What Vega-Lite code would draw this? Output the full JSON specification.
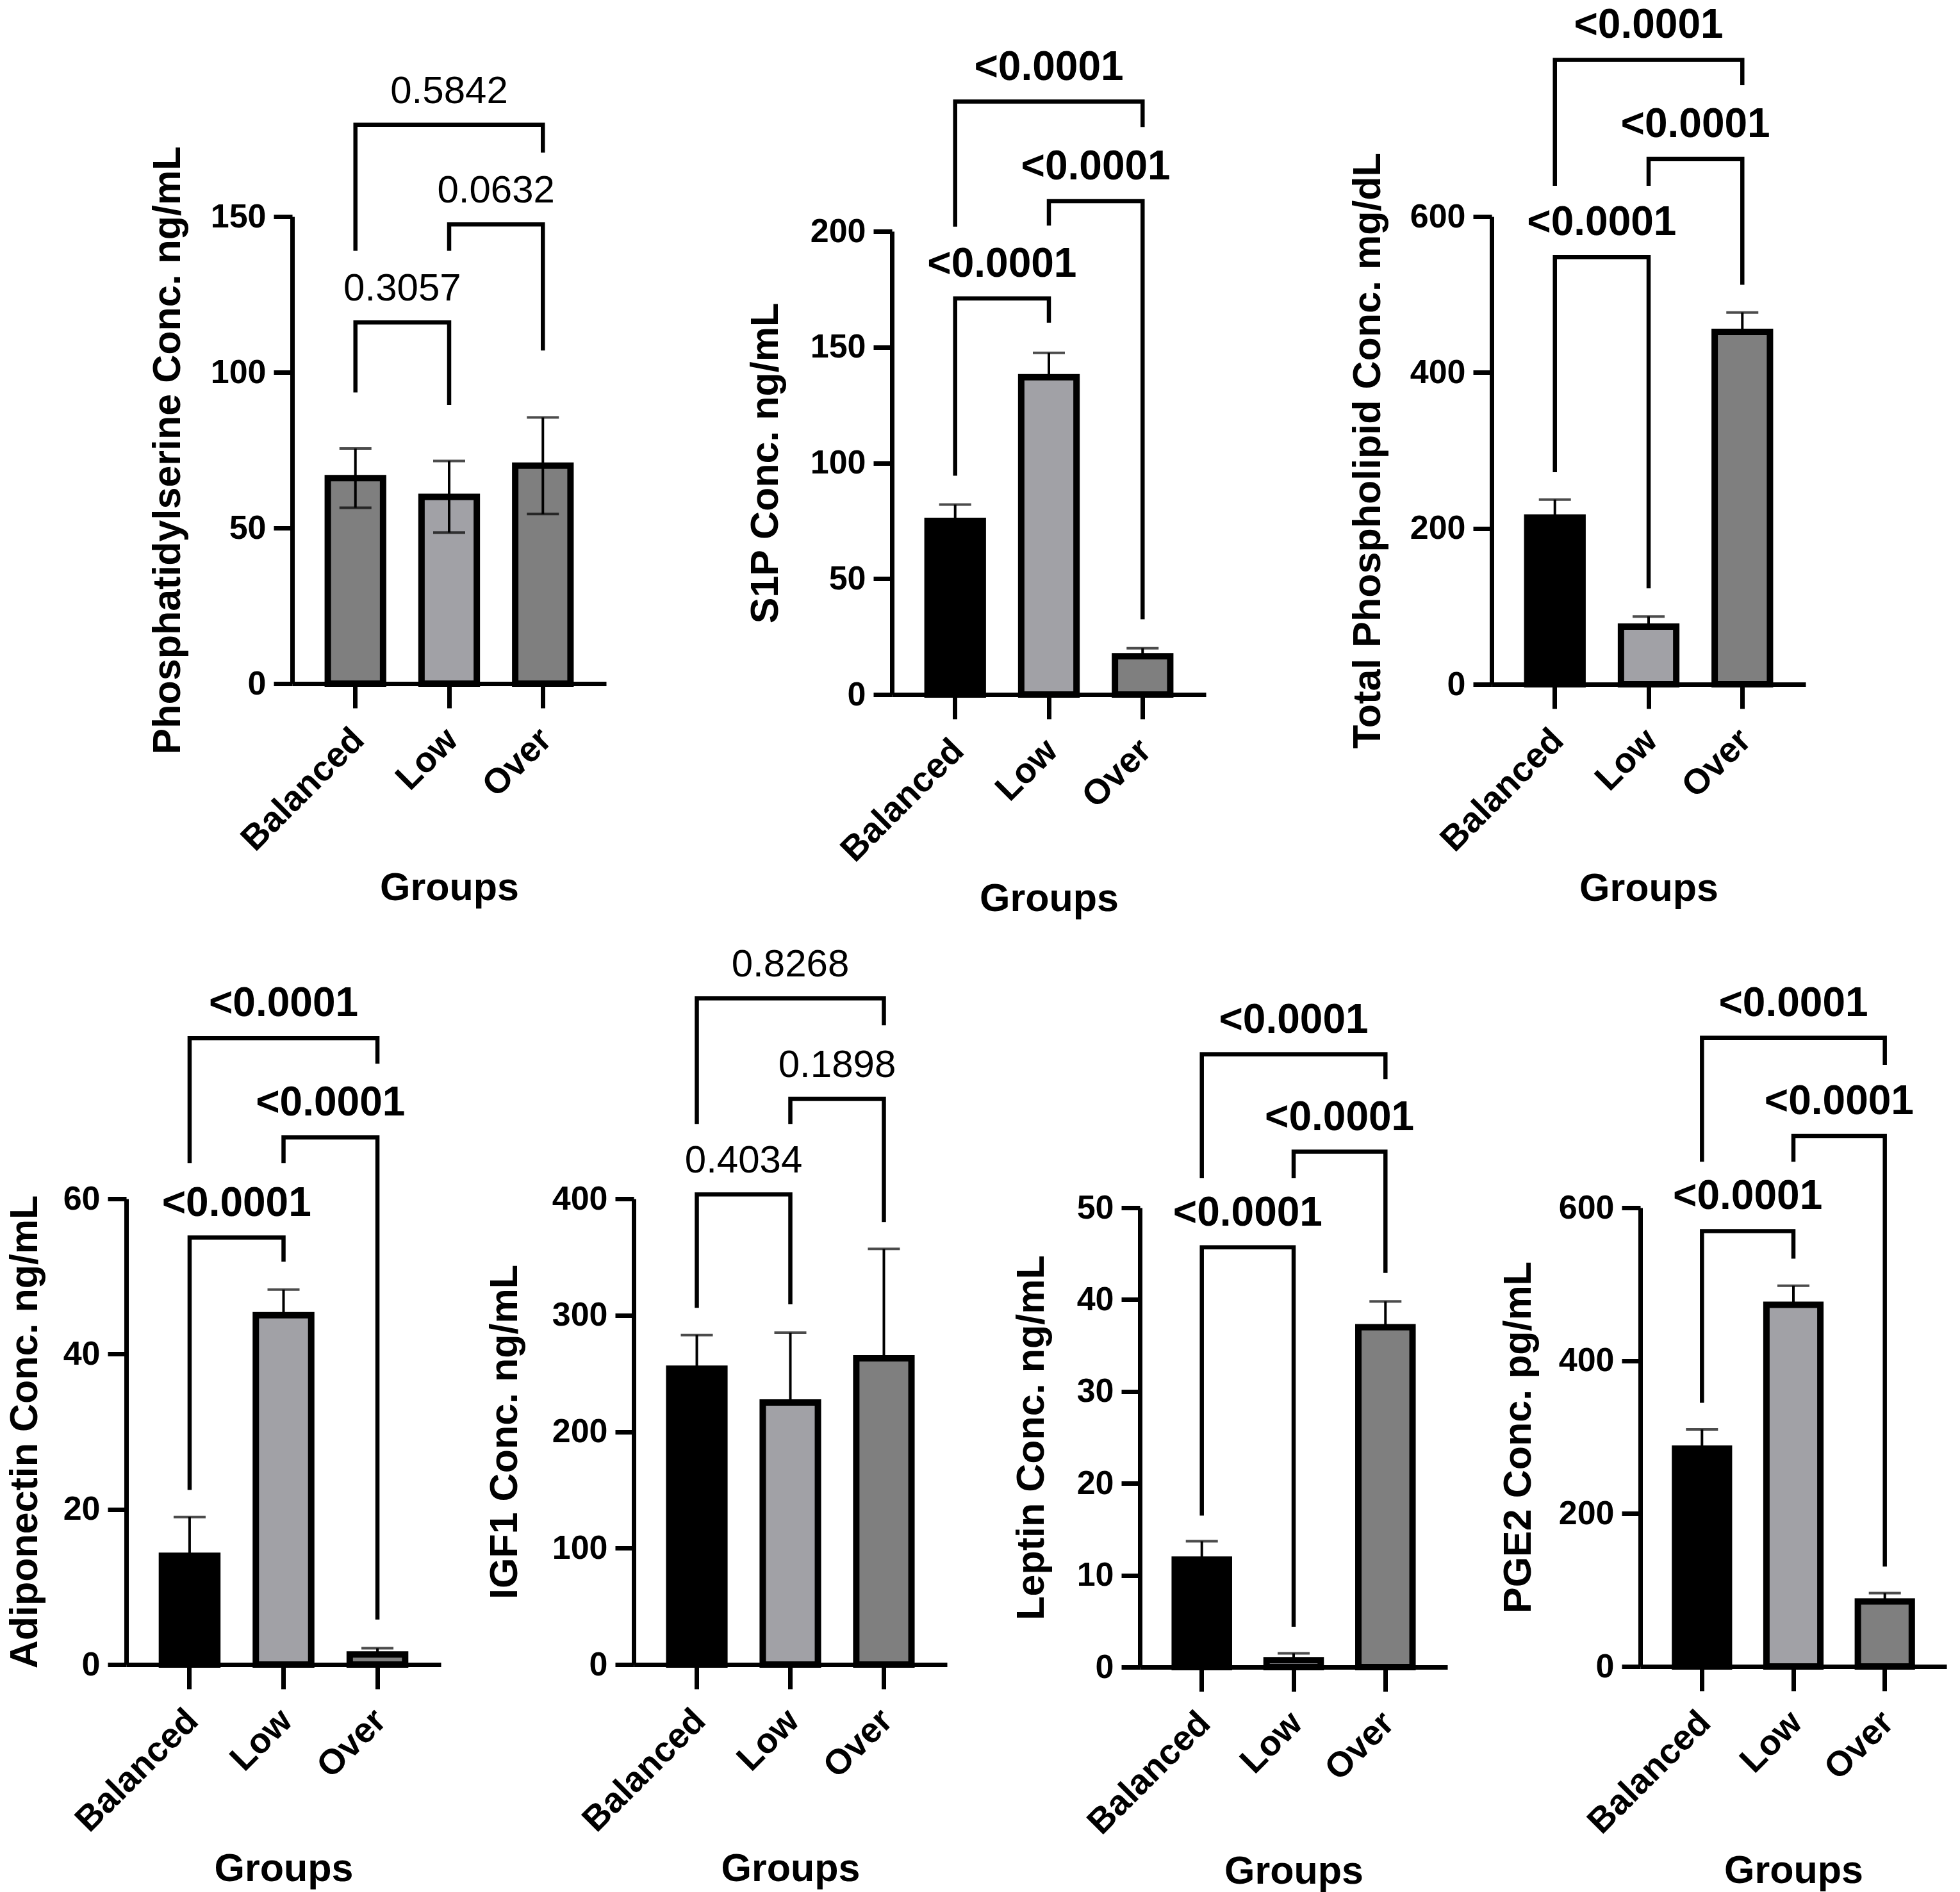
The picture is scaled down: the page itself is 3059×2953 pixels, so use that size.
{
  "$schema": "https://vega.github.io/schema/vega-lite/v6.json",
  "background": "white",
  "padding": {"left": 8, "top": 8, "right": 10, "bottom": 10},
  "spacing": 1533,
  "bounds": "flush",
  "resolve": {"scale": {"fill": "independent"}},
  "datasets": {
    "bars": [
      {"panel": "PS", "group": "Balanced", "mean": 66, "lo": 56.5, "hi": 75.5},
      {"panel": "PS", "group": "Low", "mean": 60, "lo": 48.5, "hi": 71.5},
      {"panel": "PS", "group": "Over", "mean": 70, "lo": 54.5, "hi": 85.5},
      {"panel": "S1P", "group": "Balanced", "mean": 75, "lo": 68, "hi": 82},
      {"panel": "S1P", "group": "Low", "mean": 137, "lo": 126.5, "hi": 147.5},
      {"panel": "S1P", "group": "Over", "mean": 16.5, "lo": 13, "hi": 20},
      {"panel": "TPL", "group": "Balanced", "mean": 214, "lo": 191, "hi": 237},
      {"panel": "TPL", "group": "Low", "mean": 74, "lo": 61, "hi": 87},
      {"panel": "TPL", "group": "Over", "mean": 452, "lo": 427, "hi": 477},
      {"panel": "ADI", "group": "Balanced", "mean": 14, "lo": 9, "hi": 19},
      {"panel": "ADI", "group": "Low", "mean": 45, "lo": 41.7, "hi": 48.3},
      {"panel": "ADI", "group": "Over", "mean": 1.3, "lo": 0.5, "hi": 2.1},
      {"panel": "IGF", "group": "Balanced", "mean": 254, "lo": 225, "hi": 283},
      {"panel": "IGF", "group": "Low", "mean": 225, "lo": 165, "hi": 285},
      {"panel": "IGF", "group": "Over", "mean": 263, "lo": 169, "hi": 357},
      {"panel": "LEP", "group": "Balanced", "mean": 11.7, "lo": 9.7, "hi": 13.7},
      {"panel": "LEP", "group": "Low", "mean": 0.75, "lo": 0, "hi": 1.5},
      {"panel": "LEP", "group": "Over", "mean": 37, "lo": 34.2, "hi": 39.8},
      {"panel": "PGE", "group": "Balanced", "mean": 285, "lo": 260, "hi": 310},
      {"panel": "PGE", "group": "Low", "mean": 473, "lo": 448, "hi": 498},
      {"panel": "PGE", "group": "Over", "mean": 85, "lo": 74, "hi": 96}
    ],
    "brackets": [
      {"panel": "PS", "pair": "BL", "seq": 0, "group": "Balanced", "y": 93.5},
      {"panel": "PS", "pair": "BL", "seq": 1, "group": "Balanced", "y": 116},
      {"panel": "PS", "pair": "BL", "seq": 2, "group": "Low", "y": 116},
      {"panel": "PS", "pair": "BL", "seq": 3, "group": "Low", "y": 89.5},
      {"panel": "PS", "pair": "LO", "seq": 0, "group": "Low", "y": 139},
      {"panel": "PS", "pair": "LO", "seq": 1, "group": "Low", "y": 147.5},
      {"panel": "PS", "pair": "LO", "seq": 2, "group": "Over", "y": 147.5},
      {"panel": "PS", "pair": "LO", "seq": 3, "group": "Over", "y": 107},
      {"panel": "PS", "pair": "BO", "seq": 0, "group": "Balanced", "y": 139},
      {"panel": "PS", "pair": "BO", "seq": 1, "group": "Balanced", "y": 179.5},
      {"panel": "PS", "pair": "BO", "seq": 2, "group": "Over", "y": 179.5},
      {"panel": "PS", "pair": "BO", "seq": 3, "group": "Over", "y": 170.5},
      {"panel": "S1P", "pair": "BL", "seq": 0, "group": "Balanced", "y": 94.5},
      {"panel": "S1P", "pair": "BL", "seq": 1, "group": "Balanced", "y": 171},
      {"panel": "S1P", "pair": "BL", "seq": 2, "group": "Low", "y": 171},
      {"panel": "S1P", "pair": "BL", "seq": 3, "group": "Low", "y": 160.5},
      {"panel": "S1P", "pair": "LO", "seq": 0, "group": "Low", "y": 202.5},
      {"panel": "S1P", "pair": "LO", "seq": 1, "group": "Low", "y": 213},
      {"panel": "S1P", "pair": "LO", "seq": 2, "group": "Over", "y": 213},
      {"panel": "S1P", "pair": "LO", "seq": 3, "group": "Over", "y": 32.5},
      {"panel": "S1P", "pair": "BO", "seq": 0, "group": "Balanced", "y": 202},
      {"panel": "S1P", "pair": "BO", "seq": 1, "group": "Balanced", "y": 256},
      {"panel": "S1P", "pair": "BO", "seq": 2, "group": "Over", "y": 256},
      {"panel": "S1P", "pair": "BO", "seq": 3, "group": "Over", "y": 245},
      {"panel": "TPL", "pair": "BL", "seq": 0, "group": "Balanced", "y": 272},
      {"panel": "TPL", "pair": "BL", "seq": 1, "group": "Balanced", "y": 548},
      {"panel": "TPL", "pair": "BL", "seq": 2, "group": "Low", "y": 548},
      {"panel": "TPL", "pair": "BL", "seq": 3, "group": "Low", "y": 123},
      {"panel": "TPL", "pair": "LO", "seq": 0, "group": "Low", "y": 639.5},
      {"panel": "TPL", "pair": "LO", "seq": 1, "group": "Low", "y": 674},
      {"panel": "TPL", "pair": "LO", "seq": 2, "group": "Over", "y": 674},
      {"panel": "TPL", "pair": "LO", "seq": 3, "group": "Over", "y": 512.5},
      {"panel": "TPL", "pair": "BO", "seq": 0, "group": "Balanced", "y": 639.5},
      {"panel": "TPL", "pair": "BO", "seq": 1, "group": "Balanced", "y": 801},
      {"panel": "TPL", "pair": "BO", "seq": 2, "group": "Over", "y": 801},
      {"panel": "TPL", "pair": "BO", "seq": 3, "group": "Over", "y": 768.5},
      {"panel": "ADI", "pair": "BL", "seq": 0, "group": "Balanced", "y": 22.5},
      {"panel": "ADI", "pair": "BL", "seq": 1, "group": "Balanced", "y": 55},
      {"panel": "ADI", "pair": "BL", "seq": 2, "group": "Low", "y": 55},
      {"panel": "ADI", "pair": "BL", "seq": 3, "group": "Low", "y": 51.9},
      {"panel": "ADI", "pair": "LO", "seq": 0, "group": "Low", "y": 64.6},
      {"panel": "ADI", "pair": "LO", "seq": 1, "group": "Low", "y": 67.9},
      {"panel": "ADI", "pair": "LO", "seq": 2, "group": "Over", "y": 67.9},
      {"panel": "ADI", "pair": "LO", "seq": 3, "group": "Over", "y": 5.8},
      {"panel": "ADI", "pair": "BO", "seq": 0, "group": "Balanced", "y": 64.6},
      {"panel": "ADI", "pair": "BO", "seq": 1, "group": "Balanced", "y": 80.7},
      {"panel": "ADI", "pair": "BO", "seq": 2, "group": "Over", "y": 80.7},
      {"panel": "ADI", "pair": "BO", "seq": 3, "group": "Over", "y": 77.4},
      {"panel": "IGF", "pair": "BL", "seq": 0, "group": "Balanced", "y": 306.3},
      {"panel": "IGF", "pair": "BL", "seq": 1, "group": "Balanced", "y": 403.7},
      {"panel": "IGF", "pair": "BL", "seq": 2, "group": "Low", "y": 403.7},
      {"panel": "IGF", "pair": "BL", "seq": 3, "group": "Low", "y": 309.5},
      {"panel": "IGF", "pair": "LO", "seq": 0, "group": "Low", "y": 464.2},
      {"panel": "IGF", "pair": "LO", "seq": 1, "group": "Low", "y": 485.8},
      {"panel": "IGF", "pair": "LO", "seq": 2, "group": "Over", "y": 485.8},
      {"panel": "IGF", "pair": "LO", "seq": 3, "group": "Over", "y": 380},
      {"panel": "IGF", "pair": "BO", "seq": 0, "group": "Balanced", "y": 464.2},
      {"panel": "IGF", "pair": "BO", "seq": 1, "group": "Balanced", "y": 572.1},
      {"panel": "IGF", "pair": "BO", "seq": 2, "group": "Over", "y": 572.1},
      {"panel": "IGF", "pair": "BO", "seq": 3, "group": "Over", "y": 548.9},
      {"panel": "LEP", "pair": "BL", "seq": 0, "group": "Balanced", "y": 16.5},
      {"panel": "LEP", "pair": "BL", "seq": 1, "group": "Balanced", "y": 45.7},
      {"panel": "LEP", "pair": "BL", "seq": 2, "group": "Low", "y": 45.7},
      {"panel": "LEP", "pair": "BL", "seq": 3, "group": "Low", "y": 4.4},
      {"panel": "LEP", "pair": "LO", "seq": 0, "group": "Low", "y": 53.2},
      {"panel": "LEP", "pair": "LO", "seq": 1, "group": "Low", "y": 56.1},
      {"panel": "LEP", "pair": "LO", "seq": 2, "group": "Over", "y": 56.1},
      {"panel": "LEP", "pair": "LO", "seq": 3, "group": "Over", "y": 42.9},
      {"panel": "LEP", "pair": "BO", "seq": 0, "group": "Balanced", "y": 53.2},
      {"panel": "LEP", "pair": "BO", "seq": 1, "group": "Balanced", "y": 66.7},
      {"panel": "LEP", "pair": "BO", "seq": 2, "group": "Over", "y": 66.7},
      {"panel": "LEP", "pair": "BO", "seq": 3, "group": "Over", "y": 64},
      {"panel": "PGE", "pair": "BL", "seq": 0, "group": "Balanced", "y": 344.9},
      {"panel": "PGE", "pair": "BL", "seq": 1, "group": "Balanced", "y": 569.5},
      {"panel": "PGE", "pair": "BL", "seq": 2, "group": "Low", "y": 569.5},
      {"panel": "PGE", "pair": "BL", "seq": 3, "group": "Low", "y": 533.4},
      {"panel": "PGE", "pair": "LO", "seq": 0, "group": "Low", "y": 660.1},
      {"panel": "PGE", "pair": "LO", "seq": 1, "group": "Low", "y": 693.8},
      {"panel": "PGE", "pair": "LO", "seq": 2, "group": "Over", "y": 693.8},
      {"panel": "PGE", "pair": "LO", "seq": 3, "group": "Over", "y": 130.7},
      {"panel": "PGE", "pair": "BO", "seq": 0, "group": "Balanced", "y": 660.1},
      {"panel": "PGE", "pair": "BO", "seq": 1, "group": "Balanced", "y": 822.2},
      {"panel": "PGE", "pair": "BO", "seq": 2, "group": "Over", "y": 822.2},
      {"panel": "PGE", "pair": "BO", "seq": 3, "group": "Over", "y": 786.9}
    ],
    "pvals": [
      {"panel": "PS", "group": "Balanced", "span": 1, "h": 116, "p": "0.3057"},
      {"panel": "PS", "group": "Low", "span": 1, "h": 147.5, "p": "0.0632"},
      {"panel": "PS", "group": "Low", "span": 2, "h": 179.5, "p": "0.5842"},
      {"panel": "S1P", "group": "Balanced", "span": 1, "h": 171, "p": "<0.0001"},
      {"panel": "S1P", "group": "Low", "span": 1, "h": 213, "p": "<0.0001"},
      {"panel": "S1P", "group": "Low", "span": 2, "h": 256, "p": "<0.0001"},
      {"panel": "TPL", "group": "Balanced", "span": 1, "h": 548, "p": "<0.0001"},
      {"panel": "TPL", "group": "Low", "span": 1, "h": 674, "p": "<0.0001"},
      {"panel": "TPL", "group": "Low", "span": 2, "h": 801, "p": "<0.0001"},
      {"panel": "ADI", "group": "Balanced", "span": 1, "h": 55, "p": "<0.0001"},
      {"panel": "ADI", "group": "Low", "span": 1, "h": 67.9, "p": "<0.0001"},
      {"panel": "ADI", "group": "Low", "span": 2, "h": 80.7, "p": "<0.0001"},
      {"panel": "IGF", "group": "Balanced", "span": 1, "h": 403.7, "p": "0.4034"},
      {"panel": "IGF", "group": "Low", "span": 1, "h": 485.8, "p": "0.1898"},
      {"panel": "IGF", "group": "Low", "span": 2, "h": 572.1, "p": "0.8268"},
      {"panel": "LEP", "group": "Balanced", "span": 1, "h": 45.7, "p": "<0.0001"},
      {"panel": "LEP", "group": "Low", "span": 1, "h": 56.1, "p": "<0.0001"},
      {"panel": "LEP", "group": "Low", "span": 2, "h": 66.7, "p": "<0.0001"},
      {"panel": "PGE", "group": "Balanced", "span": 1, "h": 569.5, "p": "<0.0001"},
      {"panel": "PGE", "group": "Low", "span": 1, "h": 693.8, "p": "<0.0001"},
      {"panel": "PGE", "group": "Low", "span": 2, "h": 822.2, "p": "<0.0001"}
    ]
  },
  "vconcat": [
    {
      "hconcat": [
        {"width": 259, "height": 1, "data": {"values": []}, "mark": "point"},
        {
          "hconcat": [
            {
              "width": 490, "height": 729,
              "layer": [
                {"data": {"name": "bars"}, "transform": [{"filter": "datum.panel === 'PS'"}],
                 "mark": {"type": "bar", "stroke": "black", "strokeWidth": 10},
                 "encoding": {
                   "x": {"field": "group", "type": "nominal", "title": "Groups", "scale": {"domain": ["Balanced", "Low", "Over"], "paddingInner": 0.41, "paddingOuter": 0.38}},
                   "y": {"field": "mean", "type": "quantitative", "title": "Phosphatidylserine Conc. ng/mL", "scale": {"domain": [0, 150], "nice": false}, "axis": {"values": [0, 50, 100, 150], "titlePadding": 35}},
                   "fill": {"field": "group", "type": "nominal", "scale": {"domain": ["Balanced", "Low", "Over"], "range": ["#7f7f7f", "#a1a1a6", "#7f7f7f"]}, "legend": null}}},
                {"data": {"name": "bars"}, "transform": [{"filter": "datum.panel === 'PS'"}],
                 "mark": {"type": "rule", "strokeWidth": 4, "color": "black"},
                 "encoding": {"x": {"field": "group", "type": "nominal", "title": "Groups"}, "y": {"field": "lo", "type": "quantitative", "title": "Phosphatidylserine Conc. ng/mL"}, "y2": {"field": "hi"}}},
                {"data": {"name": "bars"}, "transform": [{"filter": "datum.panel === 'PS'"}],
                 "mark": {"type": "tick", "thickness": 4, "size": 50, "color": "black"},
                 "encoding": {"x": {"field": "group", "type": "nominal", "title": "Groups"}, "y": {"field": "hi", "type": "quantitative", "title": "Phosphatidylserine Conc. ng/mL"}}},
                {"data": {"name": "bars"}, "transform": [{"filter": "datum.panel === 'PS'"}],
                 "mark": {"type": "tick", "thickness": 4, "size": 50, "color": "black"},
                 "encoding": {"x": {"field": "group", "type": "nominal", "title": "Groups"}, "y": {"field": "lo", "type": "quantitative", "title": "Phosphatidylserine Conc. ng/mL"}}},
                {"data": {"name": "brackets"}, "transform": [{"filter": "datum.panel === 'PS'"}],
                 "mark": {"type": "line", "strokeWidth": 6.5, "color": "black", "strokeJoin": "miter"},
                 "encoding": {"x": {"field": "group", "type": "nominal", "title": "Groups"}, "y": {"field": "y", "type": "quantitative", "title": "Phosphatidylserine Conc. ng/mL"}, "detail": {"field": "pair"}, "order": {"field": "seq"}}},
                {"data": {"name": "pvals"}, "transform": [{"filter": "datum.panel === 'PS' && datum.span === 1"}],
                 "mark": {"type": "text", "fontSize": 60, "fontWeight": "normal", "baseline": "alphabetic", "dy": -34, "color": "black"},
                 "encoding": {"x": {"field": "group", "type": "nominal", "title": "Groups", "bandPosition": 1.3475}, "y": {"field": "h", "type": "quantitative", "title": "Phosphatidylserine Conc. ng/mL"}, "text": {"field": "p"}}},
                {"data": {"name": "pvals"}, "transform": [{"filter": "datum.panel === 'PS' && datum.span === 2"}],
                 "mark": {"type": "text", "fontSize": 60, "fontWeight": "normal", "baseline": "alphabetic", "dy": -34, "color": "black"},
                 "encoding": {"x": {"field": "group", "type": "nominal", "title": "Groups"}, "y": {"field": "h", "type": "quantitative", "title": "Phosphatidylserine Conc. ng/mL"}, "text": {"field": "p"}}}
              ]
            },
            {
              "width": 490, "height": 746,
              "layer": [
                {"data": {"name": "bars"}, "transform": [{"filter": "datum.panel === 'S1P'"}],
                 "mark": {"type": "rule", "strokeWidth": 4, "color": "black"},
                 "encoding": {"x": {"field": "group", "type": "nominal", "title": "Groups"}, "y": {"field": "lo", "type": "quantitative", "title": "S1P Conc. ng/mL"}, "y2": {"field": "hi"}}},
                {"data": {"name": "bars"}, "transform": [{"filter": "datum.panel === 'S1P'"}],
                 "mark": {"type": "bar", "stroke": "black", "strokeWidth": 10},
                 "encoding": {
                   "x": {"field": "group", "type": "nominal", "title": "Groups", "scale": {"domain": ["Balanced", "Low", "Over"], "paddingInner": 0.41, "paddingOuter": 0.38}},
                   "y": {"field": "mean", "type": "quantitative", "title": "S1P Conc. ng/mL", "scale": {"domain": [0, 200], "nice": false, "range": [746, 23]}, "axis": {"values": [0, 50, 100, 150, 200], "titlePadding": 38}},
                   "fill": {"field": "group", "type": "nominal", "scale": {"domain": ["Balanced", "Low", "Over"], "range": ["#000000", "#a1a1a6", "#7f7f7f"]}, "legend": null}}},
                {"data": {"name": "bars"}, "transform": [{"filter": "datum.panel === 'S1P'"}],
                 "mark": {"type": "tick", "thickness": 4, "size": 50, "color": "black"},
                 "encoding": {"x": {"field": "group", "type": "nominal", "title": "Groups"}, "y": {"field": "hi", "type": "quantitative", "title": "S1P Conc. ng/mL"}}},
                {"data": {"name": "brackets"}, "transform": [{"filter": "datum.panel === 'S1P'"}],
                 "mark": {"type": "line", "strokeWidth": 6.5, "color": "black", "strokeJoin": "miter"},
                 "encoding": {"x": {"field": "group", "type": "nominal", "title": "Groups"}, "y": {"field": "y", "type": "quantitative", "title": "S1P Conc. ng/mL"}, "detail": {"field": "pair"}, "order": {"field": "seq"}}},
                {"data": {"name": "pvals"}, "transform": [{"filter": "datum.panel === 'S1P' && datum.span === 1"}],
                 "mark": {"type": "text", "fontSize": 64, "fontWeight": "bold", "baseline": "alphabetic", "dy": -34, "color": "black"},
                 "encoding": {"x": {"field": "group", "type": "nominal", "title": "Groups", "bandPosition": 1.3475}, "y": {"field": "h", "type": "quantitative", "title": "S1P Conc. ng/mL"}, "text": {"field": "p"}}},
                {"data": {"name": "pvals"}, "transform": [{"filter": "datum.panel === 'S1P' && datum.span === 2"}],
                 "mark": {"type": "text", "fontSize": 64, "fontWeight": "bold", "baseline": "alphabetic", "dy": -34, "color": "black"},
                 "encoding": {"x": {"field": "group", "type": "nominal", "title": "Groups"}, "y": {"field": "h", "type": "quantitative", "title": "S1P Conc. ng/mL"}, "text": {"field": "p"}}}
              ]
            },
            {
              "width": 490, "height": 730,
              "layer": [
                {"data": {"name": "bars"}, "transform": [{"filter": "datum.panel === 'TPL'"}],
                 "mark": {"type": "rule", "strokeWidth": 4, "color": "black"},
                 "encoding": {"x": {"field": "group", "type": "nominal", "title": "Groups"}, "y": {"field": "lo", "type": "quantitative", "title": "Total Phospholipid Conc. mg/dL"}, "y2": {"field": "hi"}}},
                {"data": {"name": "bars"}, "transform": [{"filter": "datum.panel === 'TPL'"}],
                 "mark": {"type": "bar", "stroke": "black", "strokeWidth": 10},
                 "encoding": {
                   "x": {"field": "group", "type": "nominal", "title": "Groups", "scale": {"domain": ["Balanced", "Low", "Over"], "paddingInner": 0.41, "paddingOuter": 0.38}},
                   "y": {"field": "mean", "type": "quantitative", "title": "Total Phospholipid Conc. mg/dL", "scale": {"domain": [0, 600], "nice": false}, "axis": {"values": [0, 200, 400, 600], "titlePadding": 34}},
                   "fill": {"field": "group", "type": "nominal", "scale": {"domain": ["Balanced", "Low", "Over"], "range": ["#000000", "#a1a1a6", "#7f7f7f"]}, "legend": null}}},
                {"data": {"name": "bars"}, "transform": [{"filter": "datum.panel === 'TPL'"}],
                 "mark": {"type": "tick", "thickness": 4, "size": 50, "color": "black"},
                 "encoding": {"x": {"field": "group", "type": "nominal", "title": "Groups"}, "y": {"field": "hi", "type": "quantitative", "title": "Total Phospholipid Conc. mg/dL"}}},
                {"data": {"name": "brackets"}, "transform": [{"filter": "datum.panel === 'TPL'"}],
                 "mark": {"type": "line", "strokeWidth": 6.5, "color": "black", "strokeJoin": "miter"},
                 "encoding": {"x": {"field": "group", "type": "nominal", "title": "Groups"}, "y": {"field": "y", "type": "quantitative", "title": "Total Phospholipid Conc. mg/dL"}, "detail": {"field": "pair"}, "order": {"field": "seq"}}},
                {"data": {"name": "pvals"}, "transform": [{"filter": "datum.panel === 'TPL' && datum.span === 1"}],
                 "mark": {"type": "text", "fontSize": 64, "fontWeight": "bold", "baseline": "alphabetic", "dy": -34, "color": "black"},
                 "encoding": {"x": {"field": "group", "type": "nominal", "title": "Groups", "bandPosition": 1.3475}, "y": {"field": "h", "type": "quantitative", "title": "Total Phospholipid Conc. mg/dL"}, "text": {"field": "p"}}},
                {"data": {"name": "pvals"}, "transform": [{"filter": "datum.panel === 'TPL' && datum.span === 2"}],
                 "mark": {"type": "text", "fontSize": 64, "fontWeight": "bold", "baseline": "alphabetic", "dy": -34, "color": "black"},
                 "encoding": {"x": {"field": "group", "type": "nominal", "title": "Groups"}, "y": {"field": "h", "type": "quantitative", "title": "Total Phospholipid Conc. mg/dL"}, "text": {"field": "p"}}}
              ]
            }
          ],
          "spacing": 446,
          "bounds": "flush",
          "resolve": {"scale": {"fill": "independent"}}
        }
      ],
      "spacing": 0,
      "bounds": "flush",
      "resolve": {"scale": {"fill": "independent"}}
    },
    {
      "hconcat": [
        {
          "width": 491, "height": 727,
          "layer": [
            {"data": {"name": "bars"}, "transform": [{"filter": "datum.panel === 'ADI'"}],
             "mark": {"type": "rule", "strokeWidth": 4, "color": "black"},
             "encoding": {"x": {"field": "group", "type": "nominal", "title": "Groups"}, "y": {"field": "lo", "type": "quantitative", "title": "Adiponectin Conc. ng/mL"}, "y2": {"field": "hi"}}},
            {"data": {"name": "bars"}, "transform": [{"filter": "datum.panel === 'ADI'"}],
             "mark": {"type": "bar", "stroke": "black", "strokeWidth": 10},
             "encoding": {
               "x": {"field": "group", "type": "nominal", "title": "Groups", "scale": {"domain": ["Balanced", "Low", "Over"], "paddingInner": 0.41, "paddingOuter": 0.38}},
               "y": {"field": "mean", "type": "quantitative", "title": "Adiponectin Conc. ng/mL", "scale": {"domain": [0, 60], "nice": false}, "axis": {"values": [0, 20, 40, 60], "titlePadding": 28}},
               "fill": {"field": "group", "type": "nominal", "scale": {"domain": ["Balanced", "Low", "Over"], "range": ["#000000", "#a1a1a6", "#7f7f7f"]}, "legend": null}}},
            {"data": {"name": "bars"}, "transform": [{"filter": "datum.panel === 'ADI'"}],
             "mark": {"type": "tick", "thickness": 4, "size": 50, "color": "black"},
             "encoding": {"x": {"field": "group", "type": "nominal", "title": "Groups"}, "y": {"field": "hi", "type": "quantitative", "title": "Adiponectin Conc. ng/mL"}}},
            {"data": {"name": "brackets"}, "transform": [{"filter": "datum.panel === 'ADI'"}],
             "mark": {"type": "line", "strokeWidth": 6.5, "color": "black", "strokeJoin": "miter"},
             "encoding": {"x": {"field": "group", "type": "nominal", "title": "Groups"}, "y": {"field": "y", "type": "quantitative", "title": "Adiponectin Conc. ng/mL"}, "detail": {"field": "pair"}, "order": {"field": "seq"}}},
            {"data": {"name": "pvals"}, "transform": [{"filter": "datum.panel === 'ADI' && datum.span === 1"}],
             "mark": {"type": "text", "fontSize": 64, "fontWeight": "bold", "baseline": "alphabetic", "dy": -34, "color": "black"},
             "encoding": {"x": {"field": "group", "type": "nominal", "title": "Groups", "bandPosition": 1.3475}, "y": {"field": "h", "type": "quantitative", "title": "Adiponectin Conc. ng/mL"}, "text": {"field": "p"}}},
            {"data": {"name": "pvals"}, "transform": [{"filter": "datum.panel === 'ADI' && datum.span === 2"}],
             "mark": {"type": "text", "fontSize": 64, "fontWeight": "bold", "baseline": "alphabetic", "dy": -34, "color": "black"},
             "encoding": {"x": {"field": "group", "type": "nominal", "title": "Groups"}, "y": {"field": "h", "type": "quantitative", "title": "Adiponectin Conc. ng/mL"}, "text": {"field": "p"}}}
          ]
        },
        {
          "width": 489, "height": 727,
          "layer": [
            {"data": {"name": "bars"}, "transform": [{"filter": "datum.panel === 'IGF'"}],
             "mark": {"type": "rule", "strokeWidth": 4, "color": "black"},
             "encoding": {"x": {"field": "group", "type": "nominal", "title": "Groups"}, "y": {"field": "lo", "type": "quantitative", "title": "IGF1 Conc. ng/mL"}, "y2": {"field": "hi"}}},
            {"data": {"name": "bars"}, "transform": [{"filter": "datum.panel === 'IGF'"}],
             "mark": {"type": "bar", "stroke": "black", "strokeWidth": 10},
             "encoding": {
               "x": {"field": "group", "type": "nominal", "title": "Groups", "scale": {"domain": ["Balanced", "Low", "Over"], "paddingInner": 0.41, "paddingOuter": 0.38}},
               "y": {"field": "mean", "type": "quantitative", "title": "IGF1 Conc. ng/mL", "scale": {"domain": [0, 400], "nice": false}, "axis": {"values": [0, 100, 200, 300, 400], "titlePadding": 42}},
               "fill": {"field": "group", "type": "nominal", "scale": {"domain": ["Balanced", "Low", "Over"], "range": ["#000000", "#a1a1a6", "#7f7f7f"]}, "legend": null}}},
            {"data": {"name": "bars"}, "transform": [{"filter": "datum.panel === 'IGF'"}],
             "mark": {"type": "tick", "thickness": 4, "size": 50, "color": "black"},
             "encoding": {"x": {"field": "group", "type": "nominal", "title": "Groups"}, "y": {"field": "hi", "type": "quantitative", "title": "IGF1 Conc. ng/mL"}}},
            {"data": {"name": "brackets"}, "transform": [{"filter": "datum.panel === 'IGF'"}],
             "mark": {"type": "line", "strokeWidth": 6.5, "color": "black", "strokeJoin": "miter"},
             "encoding": {"x": {"field": "group", "type": "nominal", "title": "Groups"}, "y": {"field": "y", "type": "quantitative", "title": "IGF1 Conc. ng/mL"}, "detail": {"field": "pair"}, "order": {"field": "seq"}}},
            {"data": {"name": "pvals"}, "transform": [{"filter": "datum.panel === 'IGF' && datum.span === 1"}],
             "mark": {"type": "text", "fontSize": 60, "fontWeight": "normal", "baseline": "alphabetic", "dy": -34, "color": "black"},
             "encoding": {"x": {"field": "group", "type": "nominal", "title": "Groups", "bandPosition": 1.3475}, "y": {"field": "h", "type": "quantitative", "title": "IGF1 Conc. ng/mL"}, "text": {"field": "p"}}},
            {"data": {"name": "pvals"}, "transform": [{"filter": "datum.panel === 'IGF' && datum.span === 2"}],
             "mark": {"type": "text", "fontSize": 60, "fontWeight": "normal", "baseline": "alphabetic", "dy": -34, "color": "black"},
             "encoding": {"x": {"field": "group", "type": "nominal", "title": "Groups"}, "y": {"field": "h", "type": "quantitative", "title": "IGF1 Conc. ng/mL"}, "text": {"field": "p"}}}
          ]
        },
        {
          "width": 480, "height": 731,
          "layer": [
            {"data": {"name": "bars"}, "transform": [{"filter": "datum.panel === 'LEP'"}],
             "mark": {"type": "rule", "strokeWidth": 4, "color": "black"},
             "encoding": {"x": {"field": "group", "type": "nominal", "title": "Groups"}, "y": {"field": "lo", "type": "quantitative", "title": "Leptin Conc. ng/mL"}, "y2": {"field": "hi"}}},
            {"data": {"name": "bars"}, "transform": [{"filter": "datum.panel === 'LEP'"}],
             "mark": {"type": "bar", "stroke": "black", "strokeWidth": 10},
             "encoding": {
               "x": {"field": "group", "type": "nominal", "title": "Groups", "scale": {"domain": ["Balanced", "Low", "Over"], "paddingInner": 0.41, "paddingOuter": 0.38}},
               "y": {"field": "mean", "type": "quantitative", "title": "Leptin Conc. ng/mL", "scale": {"domain": [0, 50], "nice": false, "range": [731, 14]}, "axis": {"values": [0, 10, 20, 30, 40, 50], "titlePadding": 39}},
               "fill": {"field": "group", "type": "nominal", "scale": {"domain": ["Balanced", "Low", "Over"], "range": ["#000000", "#a1a1a6", "#7f7f7f"]}, "legend": null}}},
            {"data": {"name": "bars"}, "transform": [{"filter": "datum.panel === 'LEP'"}],
             "mark": {"type": "tick", "thickness": 4, "size": 50, "color": "black"},
             "encoding": {"x": {"field": "group", "type": "nominal", "title": "Groups"}, "y": {"field": "hi", "type": "quantitative", "title": "Leptin Conc. ng/mL"}}},
            {"data": {"name": "brackets"}, "transform": [{"filter": "datum.panel === 'LEP'"}],
             "mark": {"type": "line", "strokeWidth": 6.5, "color": "black", "strokeJoin": "miter"},
             "encoding": {"x": {"field": "group", "type": "nominal", "title": "Groups"}, "y": {"field": "y", "type": "quantitative", "title": "Leptin Conc. ng/mL"}, "detail": {"field": "pair"}, "order": {"field": "seq"}}},
            {"data": {"name": "pvals"}, "transform": [{"filter": "datum.panel === 'LEP' && datum.span === 1"}],
             "mark": {"type": "text", "fontSize": 64, "fontWeight": "bold", "baseline": "alphabetic", "dy": -34, "color": "black"},
             "encoding": {"x": {"field": "group", "type": "nominal", "title": "Groups", "bandPosition": 1.3475}, "y": {"field": "h", "type": "quantitative", "title": "Leptin Conc. ng/mL"}, "text": {"field": "p"}}},
            {"data": {"name": "pvals"}, "transform": [{"filter": "datum.panel === 'LEP' && datum.span === 2"}],
             "mark": {"type": "text", "fontSize": 64, "fontWeight": "bold", "baseline": "alphabetic", "dy": -34, "color": "black"},
             "encoding": {"x": {"field": "group", "type": "nominal", "title": "Groups"}, "y": {"field": "h", "type": "quantitative", "title": "Leptin Conc. ng/mL"}, "text": {"field": "p"}}}
          ]
        },
        {
          "width": 478, "height": 730,
          "layer": [
            {"data": {"name": "bars"}, "transform": [{"filter": "datum.panel === 'PGE'"}],
             "mark": {"type": "rule", "strokeWidth": 4, "color": "black"},
             "encoding": {"x": {"field": "group", "type": "nominal", "title": "Groups"}, "y": {"field": "lo", "type": "quantitative", "title": "PGE2 Conc. pg/mL"}, "y2": {"field": "hi"}}},
            {"data": {"name": "bars"}, "transform": [{"filter": "datum.panel === 'PGE'"}],
             "mark": {"type": "bar", "stroke": "black", "strokeWidth": 10},
             "encoding": {
               "x": {"field": "group", "type": "nominal", "title": "Groups", "scale": {"domain": ["Balanced", "Low", "Over"], "paddingInner": 0.41, "paddingOuter": 0.38}},
               "y": {"field": "mean", "type": "quantitative", "title": "PGE2 Conc. pg/mL", "scale": {"domain": [0, 600], "nice": false, "range": [730, 14]}, "axis": {"values": [0, 200, 400, 600], "titlePadding": 31}},
               "fill": {"field": "group", "type": "nominal", "scale": {"domain": ["Balanced", "Low", "Over"], "range": ["#000000", "#a1a1a6", "#7f7f7f"]}, "legend": null}}},
            {"data": {"name": "bars"}, "transform": [{"filter": "datum.panel === 'PGE'"}],
             "mark": {"type": "tick", "thickness": 4, "size": 50, "color": "black"},
             "encoding": {"x": {"field": "group", "type": "nominal", "title": "Groups"}, "y": {"field": "hi", "type": "quantitative", "title": "PGE2 Conc. pg/mL"}}},
            {"data": {"name": "brackets"}, "transform": [{"filter": "datum.panel === 'PGE'"}],
             "mark": {"type": "line", "strokeWidth": 6.5, "color": "black", "strokeJoin": "miter"},
             "encoding": {"x": {"field": "group", "type": "nominal", "title": "Groups"}, "y": {"field": "y", "type": "quantitative", "title": "PGE2 Conc. pg/mL"}, "detail": {"field": "pair"}, "order": {"field": "seq"}}},
            {"data": {"name": "pvals"}, "transform": [{"filter": "datum.panel === 'PGE' && datum.span === 1"}],
             "mark": {"type": "text", "fontSize": 64, "fontWeight": "bold", "baseline": "alphabetic", "dy": -34, "color": "black"},
             "encoding": {"x": {"field": "group", "type": "nominal", "title": "Groups", "bandPosition": 1.3475}, "y": {"field": "h", "type": "quantitative", "title": "PGE2 Conc. pg/mL"}, "text": {"field": "p"}}},
            {"data": {"name": "pvals"}, "transform": [{"filter": "datum.panel === 'PGE' && datum.span === 2"}],
             "mark": {"type": "text", "fontSize": 64, "fontWeight": "bold", "baseline": "alphabetic", "dy": -34, "color": "black"},
             "encoding": {"x": {"field": "group", "type": "nominal", "title": "Groups"}, "y": {"field": "h", "type": "quantitative", "title": "PGE2 Conc. pg/mL"}, "text": {"field": "p"}}}
          ]
        }
      ],
      "spacing": 301,
      "bounds": "flush",
      "resolve": {"scale": {"fill": "independent"}}
    }
  ],
  "config": {
    "view": {"stroke": null},
    "font": "Liberation Sans",
    "axis": {
      "domainColor": "black", "domainWidth": 7, "tickColor": "black", "tickWidth": 7,
      "labelColor": "black", "titleColor": "black",
      "labelFont": "Liberation Sans", "titleFont": "Liberation Sans",
      "labelFontWeight": "bold", "titleFontWeight": "bold",
      "labelFontSize": 52, "titleFontSize": 61, "grid": false, "labelLimit": 0
    },
    "axisX": {"tickSize": 38, "labelAngle": -45, "labelFontSize": 55, "labelPadding": 22, "labelOffset": -14, "titlePadding": 89, "titleFontSize": 61, "labelOverlap": false},
    "axisY": {"tickSize": 29, "labelPadding": 12}
  }
}
